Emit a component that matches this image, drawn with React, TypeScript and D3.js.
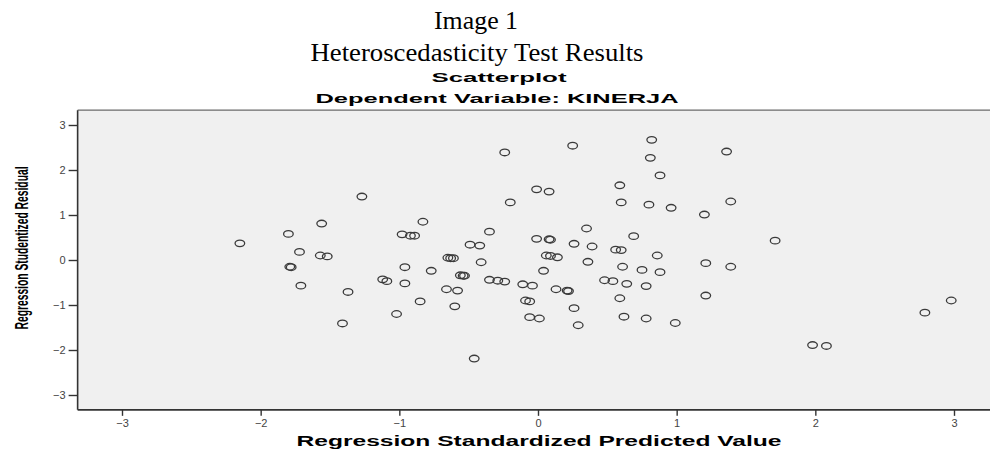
import React, { useEffect, useRef } from "react";
import * as d3 from "d3";

const predicted = [
  -2.15, -1.8, -1.72, -1.79, -1.78, -1.71, -1.56, -1.57, -1.52, -1.37,
  -1.41, -1.27, -1.12, -1.09, -1.02, -0.98, -0.92, -0.89, -0.96, -0.96,
  -0.83, -0.85, -0.77, -0.66, -0.58, -0.65, -0.63, -0.61, -0.6, -0.56,
  -0.54, -0.53, -0.49, -0.42, -0.46, -0.41, -0.35, -0.35, -0.29, -0.24,
  -0.24, -0.2, -0.11, -0.04, -0.09, -0.06, -0.06, 0.01, -0.01, 0.08,
  -0.01, 0.08, 0.09, 0.04, 0.06, 0.09, 0.14, 0.13, 0.21, 0.22,
  0.25, 0.26, 0.26, 0.29, 0.35, 0.39, 0.36, 0.48, 0.54, 0.56,
  0.6, 0.59, 0.6, 0.61, 0.64, 0.59, 0.62, 0.69, 0.75, 0.78,
  0.78, 0.8, 0.82, 0.81, 0.88, 0.86, 0.88, 0.96, 0.99, 1.2,
  1.21, 1.21, 1.36, 1.39, 1.39, 1.71, 1.98, 2.08, 2.79, 2.98,
];

const residual = [
  0.37, 0.58, 0.18, -0.15, -0.16, -0.57, 0.81, 0.1, 0.08, -0.71,
  -1.41, 1.41, -0.43, -0.47, -1.2, 0.57, 0.54, 0.54, -0.16, -0.52,
  0.85, -0.92, -0.24, -0.65, -0.68, 0.05, 0.04, 0.04, -1.03, -0.34,
  -0.35, -0.35, 0.34, 0.32, -2.19, -0.05, 0.63, -0.44, -0.46, -0.48,
  2.39, 1.28, -0.54, -0.57, -0.9, -0.92, -1.27, -1.3, 1.57, 1.52,
  0.47, 0.46, 0.45, -0.24, 0.1, 0.09, 0.06, -0.65, -0.68, -0.69,
  2.54, 0.36, -1.07, -1.45, 0.7, 0.3, -0.04, -0.45, -0.47, 0.23,
  0.22, 1.66, 1.28, -0.15, -0.53, -0.85, -1.26, 0.53, -0.22, -0.58,
  -1.3, 1.23, 2.67, 2.27, 1.88, 0.1, -0.27, 1.16, -1.4, 1.01,
  -0.07, -0.79, 2.41, 1.3, -0.15, 0.43, -1.89, -1.91, -1.17, -0.9,
];

const xTicks = [-3, -2, -1, 0, 1, 2, 3];
const yTicks = [-3, -2, -1, 0, 1, 2, 3];

const W = 990;
const H = 450;

export default function App() {
  const ref = useRef<SVGSVGElement>(null);

  useEffect(() => {
    const svg = d3.select(ref.current);
    svg.selectAll("*").remove();

    const x = d3.scaleLinear().domain([-3, 3]).range([122, 954]);
    const y = d3.scaleLinear().domain([-3, 3]).range([395, 125]);
    const left = x(-3.32);
    const top = y(3.33);
    const bottom = y(-3.33);

    // titles
    svg.append("text").attr("x", 476).attr("y", 29).attr("text-anchor", "middle")
      .attr("font-family", "Liberation Serif").attr("font-size", 26)
      .attr("textLength", 84).attr("lengthAdjust", "spacingAndGlyphs").text("Image 1");
    svg.append("text").attr("x", 477).attr("y", 61).attr("text-anchor", "middle")
      .attr("font-family", "Liberation Serif").attr("font-size", 26)
      .attr("textLength", 333).attr("lengthAdjust", "spacingAndGlyphs")
      .text("Heteroscedasticity Test Results");
    svg.append("text").attr("x", 499).attr("y", 82).attr("text-anchor", "middle")
      .attr("font-family", "Liberation Sans").attr("font-weight", "bold").attr("font-size", 13)
      .attr("textLength", 135).attr("lengthAdjust", "spacingAndGlyphs").text("Scatterplot");
    svg.append("text").attr("x", 497).attr("y", 103).attr("text-anchor", "middle")
      .attr("font-family", "Liberation Sans").attr("font-weight", "bold").attr("font-size", 13)
      .attr("textLength", 363).attr("lengthAdjust", "spacingAndGlyphs")
      .text("Dependent Variable: KINERJA");

    // plot background + frame
    svg.append("rect").attr("x", left).attr("y", top)
      .attr("width", W - left).attr("height", bottom - top).attr("fill", "#f0f0f0");
    svg.append("line").attr("x1", left).attr("x2", W).attr("y1", top).attr("y2", top)
      .attr("stroke", "#6a6a6a").attr("stroke-width", 1.2);

    const yAxis = svg.append("g").attr("transform", `translate(${left},0)`)
      .call(d3.axisLeft(y).tickValues(yTicks).tickSize(9).tickPadding(3).tickFormat(d3.format("d")));
    yAxis.select(".domain").attr("d", `M0,${top}V${bottom}`).attr("stroke", "#333").attr("stroke-width", 1.6);

    const xAxis = svg.append("g").attr("transform", `translate(0,${bottom})`)
      .call(d3.axisBottom(x).tickValues(xTicks).tickSize(6).tickPadding(3).tickFormat(d3.format("d")));
    xAxis.select(".domain").attr("d", `M${left},0H${W}`).attr("stroke", "#333").attr("stroke-width", 1.6);

    svg.selectAll(".tick line").attr("stroke", "#333").attr("stroke-width", 1.4);
    svg.selectAll(".tick text").attr("font-family", "Liberation Sans")
      .attr("font-size", 11).attr("fill", "#444");

    // axis titles
    svg.append("text").attr("transform", "translate(28,248) rotate(-90)")
      .attr("text-anchor", "middle").attr("font-family", "Liberation Sans")
      .attr("font-weight", "bold").attr("font-size", 18)
      .attr("textLength", 163).attr("lengthAdjust", "spacingAndGlyphs")
      .text("Regression Studentized Residual");
    svg.append("text").attr("x", 539).attr("y", 446).attr("text-anchor", "middle")
      .attr("font-family", "Liberation Sans").attr("font-weight", "bold").attr("font-size", 14)
      .attr("textLength", 485).attr("lengthAdjust", "spacingAndGlyphs")
      .text("Regression Standardized Predicted Value");

    // points
    svg.append("g").selectAll("ellipse")
      .data(predicted.map((p, i) => [p, residual[i]]))
      .enter()
      .append("ellipse")
      .attr("cx", (d) => x(d[0]))
      .attr("cy", (d) => y(d[1]))
      .attr("rx", 4.8)
      .attr("ry", 3.3)
      .attr("fill", "none")
      .attr("stroke", "#3a3a3a")
      .attr("stroke-width", 1.3);
  }, []);

  return (
    <svg
      ref={ref}
      width={W}
      height={H}
      style={{ position: "absolute", left: 0, top: 0, background: "#fff" }}
    />
  );
}
